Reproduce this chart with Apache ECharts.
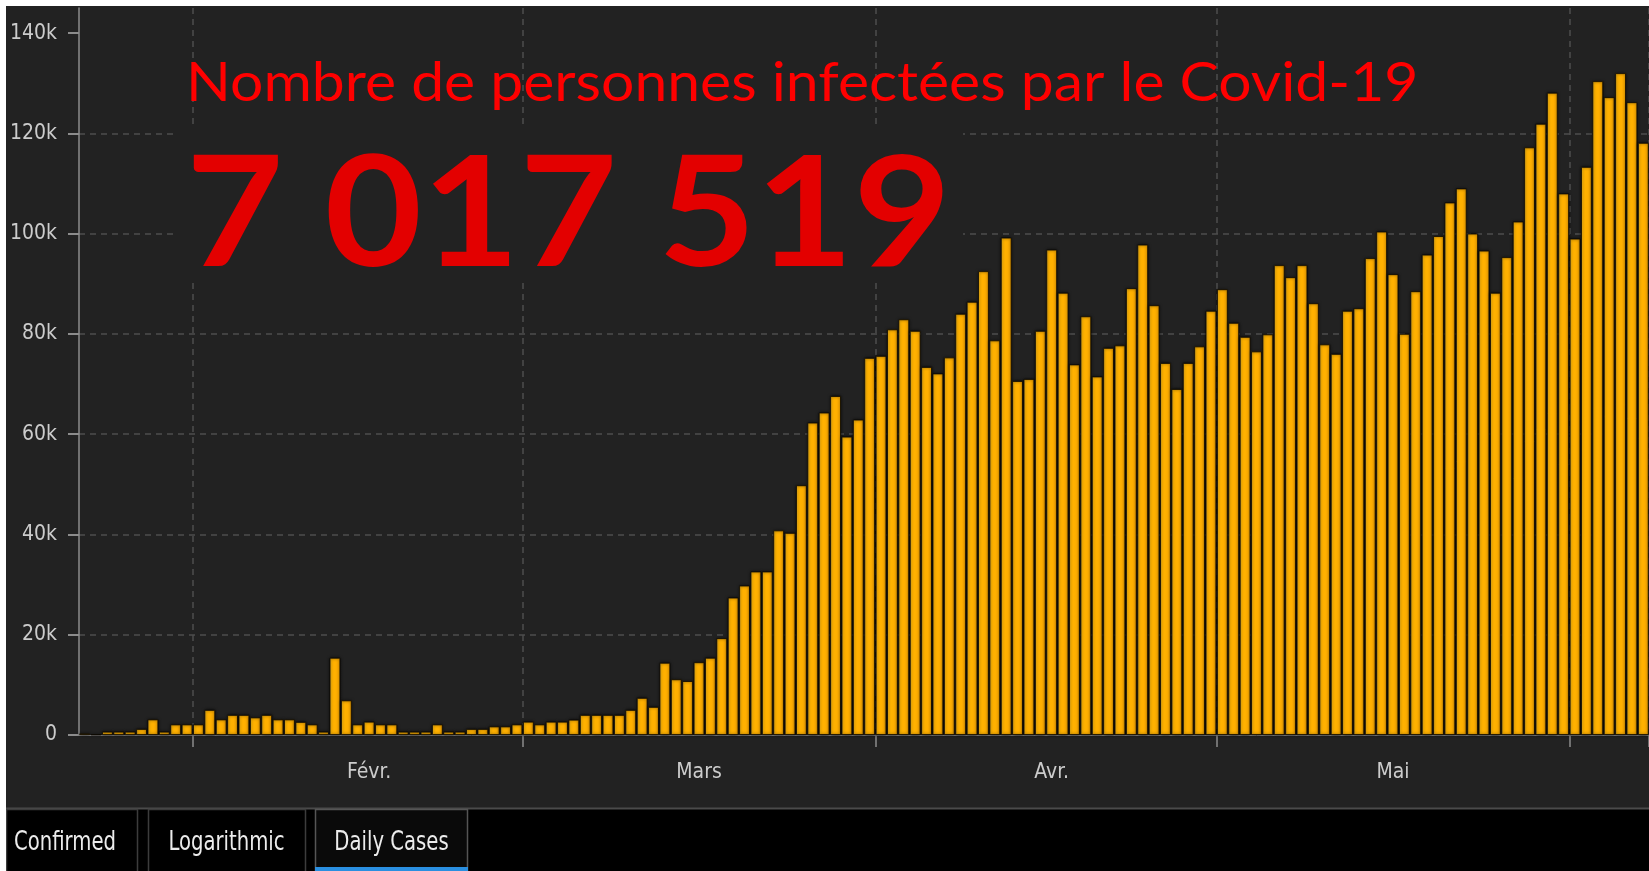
<!DOCTYPE html>
<html><head><meta charset="utf-8">
<script src="https://cdn.jsdelivr.net/npm/echarts@6/dist/echarts.min.js"></script>
<style>html,body{margin:0;padding:0;background:#fff;overflow:hidden}#c{width:1649px;height:871px}</style>
</head><body><div id="c"></div>
<script>
// ---- data (daily new cases) ----
const startDate = [2020, 1, 22];
const dailyJan = [300, 100, 660, 660, 660, 1200, 3100, 660, 2100, 2100];
const dailyFeb = [2100, 5000, 3100, 4000, 4000, 3500, 4000, 3100, 3100, 2600, 2100, 660, 15400, 6900, 2100, 2650, 2100, 2100, 660, 660, 660, 2100, 660, 660, 1200, 1200, 1700, 1700, 2100];
const dailyMar = [2650, 2100, 2650, 2650, 3050, 4000, 4000, 4000, 4000, 5000, 7400, 5600, 14400, 11100, 10750, 14500, 15400, 19300, 27400, 29800, 32600, 32600, 40800, 40300, 49800, 62300, 64300, 67600, 59500, 62900, 75200];
const dailyApr = [75600, 80900, 82900, 80600, 73400, 72100, 75300, 84000, 86400, 92500, 78700, 99200, 70600, 71000, 80600, 96800, 88200, 73900, 83500, 71500, 77200, 77700, 89100, 97800, 85700, 74200, 69000, 74200, 77500, 84600];
const dailyMay = [88900, 82200, 79400, 76500, 79900, 93700, 91300, 93700, 86100, 77900, 76000, 84600, 85100, 95100, 100400, 91900, 80000, 88500, 95800, 99500, 106200, 109000, 100000, 96600, 88200, 95300, 102400, 117200, 121900, 128100, 108000];
const dailyJun = [99000, 113300, 130400, 127200, 132000, 126200, 118100];
const monthNames = ['Janv.', 'Févr.', 'Mars', 'Avr.', 'Mai', 'Juin'];
const yTickValues = [0, 20000, 40000, 60000, 80000, 100000, 120000, 140000];
const titleText = 'Nombre de personnes infectées par le Covid-19';
const totalText = '7 017 519';
const tabNames = ['Confirmed', 'Logarithmic', 'Daily Cases'];

// ---- build categories ----
const monthly = [dailyJan, dailyFeb, dailyMar, dailyApr, dailyMay, dailyJun];
const values = [].concat(...monthly);
const categories = [];
monthly.forEach((arr, m) => {
  const firstDay = m === 0 ? startDate[2] : 1;
  arr.forEach((_, k) => {
    const d = firstDay + k;
    categories.push('2020-' + String(m + 1).padStart(2, '0') + '-' + String(d).padStart(2, '0'));
  });
});

const uiFont = "'Liberation Sans Narrow', 'DejaVu Sans Condensed', 'DejaVu Sans', sans-serif";
const chart = echarts.init(document.getElementById('c'));

const tabs = [
  {x: 6, w: 131, cx: 65, active: false},
  {x: 148, w: 157, cx: 226.5, active: false},
  {x: 315, w: 152, cx: 391.5, active: true}
];
const tabGraphics = [];
tabs.forEach((t, i) => {
  tabGraphics.push({type: 'rect', z: 102, shape: {x: t.x + 0.5, y: 809.5, width: t.w, height: 70},
    style: {fill: t.active ? '#0a0a0a' : '#000', stroke: t.active ? '#555' : '#3c3c3c', lineWidth: 1.5}});
  tabGraphics.push({type: 'text', z: 103, x: t.cx, y: 843, scaleX: 0.84,
    style: {text: tabNames[i], fill: '#ececec', font: '26px ' + uiFont, align: 'center', verticalAlign: 'middle'}});
  if (t.active) {
    tabGraphics.push({type: 'rect', z: 104, shape: {x: t.x, y: 867, width: t.w + 1, height: 4},
      style: {fill: '#2a8fe0'}});
  }
});

chart.setOption({
  backgroundColor: '#222222',
  animation: false,
  grid: {left: 79, right: -5, top: 8, bottom: 136, containLabel: false},
  xAxis: {
    type: 'category', data: categories, boundaryGap: true,
    axisLine: {show: true, lineStyle: {color: '#8c8c8c', width: 1}},
    axisTick: {show: true, interval: (i, v) => v.endsWith('-01'), length: 12,
      lineStyle: {color: '#8c8c8c', width: 1.5}},
    axisLabel: {interval: (i, v) => v.endsWith('-16'),
      formatter: v => monthNames[parseInt(v.slice(5, 7), 10) - 1],
      color: '#cccccc', fontSize: 21, fontFamily: uiFont, margin: 27},
    splitLine: {show: true, interval: (i, v) => v.endsWith('-01'),
      lineStyle: {color: '#4d4d4d', type: [6, 5], width: 1.5}}
  },
  yAxis: {
    type: 'value', min: 0, max: 145000, interval: 20000,
    axisLine: {show: true, lineStyle: {color: '#8c8c8c', width: 1.5}},
    axisTick: {show: true, length: 11, customValues: yTickValues,
      lineStyle: {color: '#8c8c8c', width: 2}},
    axisLabel: {customValues: yTickValues, showMaxLabel: true,
      formatter: v => v === 0 ? '0' : (v / 1000) + 'k',
      color: '#cccccc', fontSize: 21, fontFamily: uiFont, margin: 22},
    splitLine: {show: true, showMaxLine: false, showMinLine: false,
      lineStyle: {color: '#4d4d4d', type: [6, 5], width: 1.5}}
  },
  series: [{
    type: 'bar', data: values, barCategoryGap: '6%',
    itemStyle: {
      color: new echarts.graphic.LinearGradient(0, 0, 1, 0, [
        {offset: 0, color: '#FFC634'}, {offset: 0.2, color: '#FFB300'}, {offset: 1, color: '#FFAC00'}]),
      borderColor: '#0d0900', borderWidth: 0.8,
      shadowColor: 'rgba(0,0,0,0.8)', shadowBlur: 3
    },
    emphasis: {disabled: true}
  }],
  graphic: [
    {type: 'rect', z: 99, shape: {x: 177, y: 127, width: 786, height: 156}, style: {fill: '#222222'}},
    {type: 'text', z: 100, x: 186, y: 57, scaleX: 1.09,
      style: {text: titleText, fill: '#ff0000', font: '54px Lato', align: 'left', verticalAlign: 'top'}},
    {type: 'text', z: 100, x: 186, y: 140, scaleX: 1.10,
      style: {text: totalText, fill: '#e30000', font: 'bold 153px Lato', align: 'left', verticalAlign: 'top'}},
    {type: 'rect', z: 101, shape: {x: 0, y: 0, width: 1649, height: 6}, style: {fill: '#fff'}},
    {type: 'rect', z: 101, shape: {x: 6, y: 808, width: 1643, height: 63}, style: {fill: '#000'}},
    {type: 'line', z: 102, shape: {x1: 6, y1: 808.5, x2: 1649, y2: 808.5}, style: {stroke: '#4a4a4a', lineWidth: 2}},
    ...tabGraphics,
    {type: 'rect', z: 105, shape: {x: 0, y: 0, width: 6, height: 871}, style: {fill: '#fff'}}
  ]
});
</script></body></html>
